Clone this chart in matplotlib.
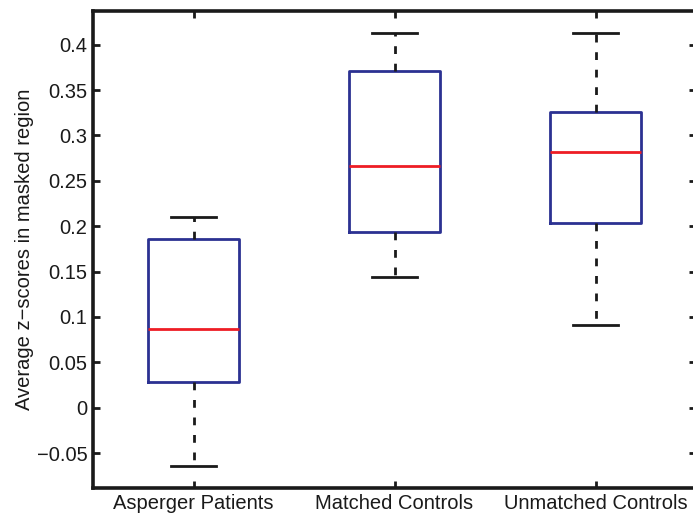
import matplotlib
matplotlib.use("Agg")
import matplotlib.pyplot as plt

categories = ["Asperger Patients", "Matched Controls", "Unmatched Controls"]
whisker_low = [-0.0643, 0.1444, 0.0911]
q1 = [0.0283, 0.1936, 0.2032]
median = [0.0867, 0.2667, 0.2818]
q3 = [0.1856, 0.3714, 0.3255]
whisker_high = [0.2104, 0.4132, 0.4132]
yticks = [-0.05, 0, 0.05, 0.1, 0.15, 0.2, 0.25, 0.3, 0.35, 0.4]
ytick_labels = ["\u22120.05", "0", "0.05", "0.1", "0.15", "0.2", "0.25", "0.3", "0.35", "0.4"]

plt.rcParams['font.family'] = ['Liberation Sans', 'DejaVu Sans']

fig = plt.figure(figsize=(6.93, 5.18), dpi=100)
ax = fig.add_axes([93/693, 30/518, 603/693, 477/518])

stats = []
for i in range(len(categories)):
    stats.append(dict(whislo=whisker_low[i], q1=q1[i], med=median[i],
                      q3=q3[i], whishi=whisker_high[i], fliers=[], label=categories[i]))

blue = "#2b3192"
red = "#ee1d25"
ink = "#1a1a1a"
ax.bxp(stats, positions=[1, 2, 3], widths=0.45, showfliers=False,
       boxprops=dict(color=blue, linewidth=2.0),
       medianprops=dict(color=red, linewidth=2.0),
       whiskerprops=dict(color=ink, linewidth=2.0, linestyle=(0, (2.8, 3.5))),
       capprops=dict(color=ink, linewidth=2.0),
       capwidths=0.22)

ax.set_xlim(0.5, 3.5)
ax.set_ylim(-0.0885, 0.4371)
ax.set_yticks(yticks)
ax.set_yticklabels(ytick_labels)
ax.set_xticks([1, 2, 3])
ax.set_xticklabels(categories)
ax.tick_params(direction="in", top=True, right=True, length=5, width=2.0,
               labelsize=14.5, colors=ink, pad=4)
for s in ax.spines.values():
    s.set_linewidth(2.6)
    s.set_color(ink)
ax.set_ylabel("Average z\u2212scores in masked region", fontsize=14.5, color=ink, labelpad=2)

fig.savefig("out.png", dpi=100)
